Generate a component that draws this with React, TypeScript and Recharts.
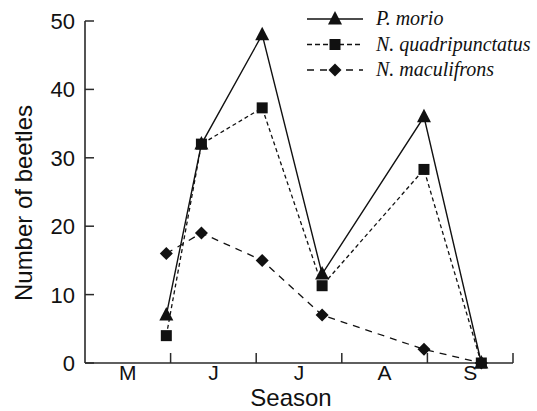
import { LineChart, Line, XAxis, YAxis } from 'recharts';

// sampling dates (position along the season axis, 0 = start of May)
const sampleX = [0.95, 1.36, 2.07, 2.77, 3.96, 4.63];
const pMorio = [7, 32, 48, 13, 36, 0];
const nQuadri = [4, 32, 37.3, 11.3, 28.3, 0];
const nMaculi = [16, 19, 15, 7, 2, 0];

const monthLabels = ['M', 'J', 'J', 'A', 'S'];
const yTicks = [0, 10, 20, 30, 40, 50];

const seriesNames = ['P. morio', 'N. quadripunctatus', 'N. maculifrons'];

const data = sampleX.map((x, i) => ({
  x,
  morio: pMorio[i],
  quadri: nQuadri[i],
  maculi: nMaculi[i],
}));

// month boundaries get tick marks, month centres get labels
const xTicks: number[] = [];
monthLabels.forEach((_, i) => {
  xTicks.push(i + 0.5);
  xTicks.push(i + 1);
});

const INK = '#111';
const AXIS = '#2a2a2a';
const sans = '"Liberation Sans", Arial, Helvetica, sans-serif';
const serif = '"Liberation Serif", "Times New Roman", serif';

function Triangle({ cx, cy }: { cx: number; cy: number }) {
  return <path d={`M${cx},${cy - 8} L${cx + 7},${cy + 5.5} L${cx - 7},${cy + 5.5} Z`} fill={INK} />;
}
function Square({ cx, cy }: { cx: number; cy: number }) {
  return <rect x={cx - 5.5} y={cy - 5.5} width={11} height={11} fill={INK} />;
}
function Diamond({ cx, cy }: { cx: number; cy: number }) {
  return <path d={`M${cx},${cy - 6.5} L${cx + 6.5},${cy} L${cx},${cy + 6.5} L${cx - 6.5},${cy} Z`} fill={INK} />;
}

const XTick = (props: any) => {
  const { x, y, payload } = props;
  const v = payload.value;
  if (Number.isInteger(v)) {
    return <line x1={x} x2={x} y1={y} y2={y - 10} stroke={AXIS} strokeWidth={1.5} />;
  }
  const idx = Math.floor(v);
  return (
    <text x={x} y={y + 17} textAnchor="middle" fontFamily={sans} fontSize={21} fill={INK}>
      {monthLabels[idx]}
    </text>
  );
};

const YTick = (props: any) => {
  const { x, y, payload } = props;
  return (
    <g>
      <line x1={x} x2={x + 9} y1={y} y2={y} stroke={AXIS} strokeWidth={1.5} />
      <text x={x - 10} y={y + 8} textAnchor="end" fontFamily={sans} fontSize={22} fill={INK}>
        {payload.value}
      </text>
    </g>
  );
};

const legendRows = [
  { name: seriesNames[0], dash: undefined, Mark: Triangle },
  { name: seriesNames[1], dash: '5 3', Mark: Square },
  { name: seriesNames[2], dash: '7 6', Mark: Diamond },
];

export default function App() {
  return (
    <div style={{ position: 'absolute', left: 0, top: 0, width: 537, height: 411, background: '#fff' }}>
      <LineChart width={537} height={411} data={data} margin={{ top: 21, right: 24, left: 25, bottom: 18 }}>
        <XAxis
          dataKey="x"
          type="number"
          domain={[0, 5]}
          ticks={xTicks}
          interval={0}
          tickLine={false}
          tickSize={0}
          tickMargin={0}
          height={30}
          stroke={AXIS}
          strokeWidth={1.6}
          tick={<XTick />}
        />
        <YAxis
          type="number"
          domain={[0, 50]}
          ticks={yTicks}
          interval={0}
          tickLine={false}
          tickSize={0}
          tickMargin={0}
          width={60}
          stroke={AXIS}
          strokeWidth={1.6}
          tick={<YTick />}
        />
        <Line
          dataKey="maculi"
          name={seriesNames[2]}
          stroke={INK}
          strokeWidth={1.3}
          strokeDasharray="7 6"
          isAnimationActive={false}
          dot={(p: any) => <Diamond key={`d-${p.index}`} cx={p.cx} cy={p.cy} />}
        />
        <Line
          dataKey="morio"
          name={seriesNames[0]}
          stroke={INK}
          strokeWidth={1.4}
          isAnimationActive={false}
          dot={(p: any) => <Triangle key={`t-${p.index}`} cx={p.cx} cy={p.cy} />}
        />
        <Line
          dataKey="quadri"
          name={seriesNames[1]}
          stroke={INK}
          strokeWidth={1.3}
          strokeDasharray="4 3"
          isAnimationActive={false}
          dot={(p: any) => <Square key={`s-${p.index}`} cx={p.cx} cy={p.cy} />}
        />
      </LineChart>
      <svg width={537} height={411} style={{ position: 'absolute', left: 0, top: 0, pointerEvents: 'none' }}>
        {legendRows.map((r, i) => {
          const y = 19 + i * 25.5;
          return (
            <g key={r.name}>
              <line x1={307} x2={363} y1={y} y2={y} stroke={INK} strokeWidth={1.3} strokeDasharray={r.dash} />
              <r.Mark cx={335} cy={y} />
              <text x={376} y={y + 6} fontFamily={serif} fontStyle="italic" fontSize={20} fill={INK}>
                {r.name}
              </text>
            </g>
          );
        })}
        <text
          x={0}
          y={0}
          transform="translate(32, 203) rotate(-90)"
          textAnchor="middle"
          fontFamily={sans}
          fontSize={24}
          fill={INK}
        >
          Number of beetles
        </text>
        <text x={291} y={406} textAnchor="middle" fontFamily={sans} fontSize={24} fill={INK}>
          Season
        </text>
      </svg>
    </div>
  );
}
